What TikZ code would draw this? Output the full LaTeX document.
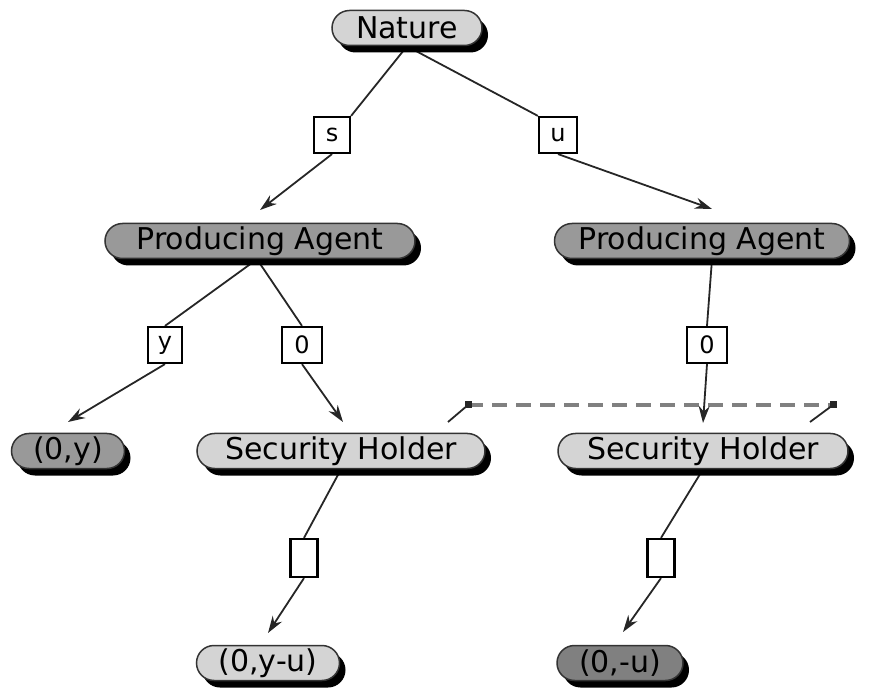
\documentclass[tikz,border=0pt]{standalone}
\usepackage{fontspec}
\setmainfont{DejaVu Sans}
\usetikzlibrary{shapes.misc,shadows,arrows.meta,backgrounds}
\begin{document}
\begin{tikzpicture}[x=1pt,y=-1pt,
  pill/.style={rounded rectangle, draw=black!80, line width=1.5pt, inner sep=0pt,
    minimum height=35pt, font=\fontsize{30}{32}\selectfont,
    drop shadow={shadow xshift=6pt, shadow yshift=-7pt, fill=black, opacity=1}},
  light/.style={pill, fill=black!17},
  mid/.style={pill, fill=black!40},
  dark/.style={pill, fill=black!50},
  lbl/.style={draw, fill=white, line width=2.2pt, inner sep=0pt,
    minimum width=36pt, minimum height=36pt, font=\fontsize{24}{26}\selectfont},
  conn/.style={line width=1.8pt, black!85},
  arr/.style={conn, -{Stealth[length=17pt,width=11pt]}},
  infoset/.style={line width=3.5pt, black!50, dash pattern=on 15pt off 9pt},
  tick/.style={line width=1.8pt, black!85}]
\useasboundingbox (0,0) rectangle (873,692);
% nodes
\node[light, minimum width=150pt] (nat) at (407,28) {Nature};
\node[mid, minimum width=310pt] (paL) at (260,241) {Producing Agent};
\node[mid, minimum width=295pt] (paR) at (702,241) {Producing Agent};
\node[mid, minimum width=113pt] (oy) at (68,451) {(0,y)};
\node[light, minimum width=288pt] (shL) at (341,451) {Security Holder};
\node[light, minimum width=290pt] (shR) at (703,451) {Security Holder};
\node[light, minimum width=143pt] (oyu) at (268,663) {(0,y-u)};
\node[dark, minimum width=126pt] (ou) at (620,663) {(0,-u)};
% labels
\node[lbl] (ls) at (332,135) {s};
\node[lbl, minimum width=38pt] (lu) at (558,135) {u};
\node[lbl, minimum width=34pt] (ly) at (165,345) {y};
\node[lbl, minimum width=40pt] (l0a) at (302,345) {0};
\node[lbl, minimum width=40pt] (l0b) at (707,345) {0};
\node[lbl, minimum width=27pt, minimum height=38pt] (le1) at (304,558) {};
\node[lbl, minimum width=27pt, minimum height=38pt] (le2) at (661,558) {};
% free ends
\coordinate (eS) at (260,210);
\coordinate (eU) at (712,209);
\coordinate (eY) at (68,422);
\coordinate (e0a) at (343,422);
\coordinate (e0b) at (703,423);
\coordinate (e1) at (268,633);
\coordinate (e2) at (623,632);
\coordinate (i1) at (468,405);
\coordinate (i2) at (833,405);
\coordinate (t1) at (448,422);
\coordinate (t2) at (810,422);
\begin{scope}[on background layer]
\draw[conn] (nat.south) -- (ls.north east);
\draw[arr] (ls.south) -- (eS);
\draw[conn] (nat.south) -- (lu.north west);
\draw[arr] (lu.south) -- (eU);
\draw[conn] ([xshift=-3pt]paL.south) -- (ly.north);
\draw[arr] (ly.south) -- (eY);
\draw[conn] ([xshift=-3pt]paL.south) -- (l0a.north);
\draw[arr] (l0a.south) -- (e0a);
\draw[conn] ([xshift=10pt]paR.south) -- (l0b.north);
\draw[conn] (shL.south) -- (le1.north);
\draw[arr] (le1.south) -- (e1);
\draw[conn] (shR.south) -- (le2.north);
\draw[arr] (le2.south) -- (e2);
\end{scope}
\draw[infoset] (i1) -- (i2);
\draw[tick] (i1) -- (t1);
\draw[tick] (i2) -- (t2);
\fill[black!85] ([shift={(-3.5pt,-3.5pt)}]i1) rectangle ([shift={(3.5pt,3.5pt)}]i1);
\fill[black!85] ([shift={(-3.5pt,-3.5pt)}]i2) rectangle ([shift={(3.5pt,3.5pt)}]i2);
\draw[arr] (l0b.south) -- (e0b);
\end{tikzpicture}
\end{document}
